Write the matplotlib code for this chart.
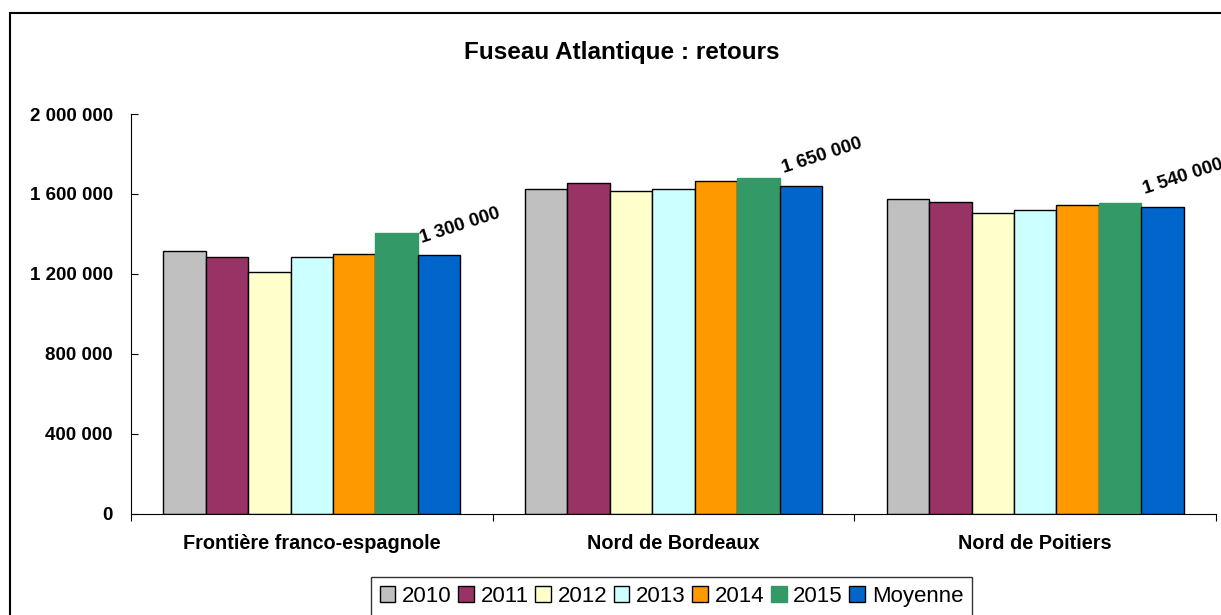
import matplotlib
matplotlib.use("Agg")
import matplotlib.pyplot as plt
from matplotlib.patches import Rectangle
from matplotlib.ticker import FuncFormatter
import numpy as np

plt.rcParams['font.family'] = ['Liberation Sans', 'DejaVu Sans']

categories = ["Frontière franco-espagnole", "Nord de Bordeaux", "Nord de Poitiers"]
series_names = ["2010", "2011", "2012", "2013", "2014", "2015", "Moyenne"]
v2010 = [1313000, 1626000, 1573000]
v2011 = [1285000, 1657000, 1558000]
v2012 = [1207000, 1617000, 1506000]
v2013 = [1283000, 1624000, 1518000]
v2014 = [1298000, 1664000, 1543000]
v2015 = [1406000, 1681000, 1553000]
moyenne = [1292000, 1641000, 1536000]
mean_labels = ["1 300 000", "1 650 000", "1 540 000"]
yticks = [0, 400000, 800000, 1200000, 1600000, 2000000]

series = [v2010, v2011, v2012, v2013, v2014, v2015, moyenne]
colors = ["#C0C0C0", "#993366", "#FFFFCC", "#CCFFFF", "#FF9900", "#339966", "#0066CC"]
edges = ["black", "black", "black", "black", "black", "#339966", "black"]

W, H = 1221, 615
fig = plt.figure(figsize=(W / 100, H / 100), dpi=100)

# outer chart frame (extends beyond the cropped image)
fig.patches.append(Rectangle((10 / W, -0.1), 1.2, 1 - 13 / H + 0.1, transform=fig.transFigure,
                             fill=False, edgecolor="black", linewidth=1.5, zorder=0))

ax = fig.add_axes([131 / W, 1 - 513.5 / H, (1216 - 131) / W, (513.5 - 114) / H])
ax.set_xlim(0, 3)
ax.set_ylim(0, 2000000)

bw = 0.1173
x = np.arange(len(categories)) + 0.5
for j, (vals, c, e) in enumerate(zip(series, colors, edges)):
    ax.bar(x + (j - 3) * bw, vals, width=bw, color=c, edgecolor=e, linewidth=1.0,
           label=series_names[j], zorder=2)

for i, lab in enumerate(mean_labels):
    ax.annotate(lab, xy=(x[i] + 3 * bw - bw / 2, moyenne[i]), xytext=(3, 9),
                textcoords="offset points", rotation=18, rotation_mode="anchor",
                ha="left", va="baseline", fontsize=13.5, fontweight="bold")

ax.spines['top'].set_visible(False)
ax.spines['right'].set_visible(False)
ax.set_yticks(yticks)
ax.yaxis.set_major_formatter(FuncFormatter(lambda v, p: f"{int(v):,}".replace(",", " ")))
ax.tick_params(axis='y', direction='in', length=5, labelsize=13.5, pad=13)
for t in ax.get_yticklabels():
    t.set_fontweight("bold")
ax.set_xticks([0, 1, 2, 3])
ax.set_xticklabels([])
ax.set_xticks(x, minor=True)
ax.set_xticklabels(categories, minor=True, fontsize=14.3, fontweight="bold")
ax.tick_params(axis='x', which='minor', length=0, pad=15)
ax.tick_params(axis='x', which='major', direction='out', length=5)

fig.text(622 / W, 1 - 52 / H, "Fuseau Atlantique : retours", ha="center", va="center",
         fontsize=17.5, fontweight="bold")

leg = fig.legend(loc="upper left", bbox_to_anchor=(371 / W, 1 - 577 / H),
                 bbox_transform=fig.transFigure, ncol=7, frameon=True, fancybox=False,
                 fontsize=16, handlelength=0.7, handleheight=0.7, handletextpad=0.3,
                 columnspacing=0.3, borderpad=0.4, borderaxespad=0)
leg.get_frame().set_edgecolor("black")
leg.get_frame().set_linewidth(1.0)

fig.savefig("out.png", dpi=100)
